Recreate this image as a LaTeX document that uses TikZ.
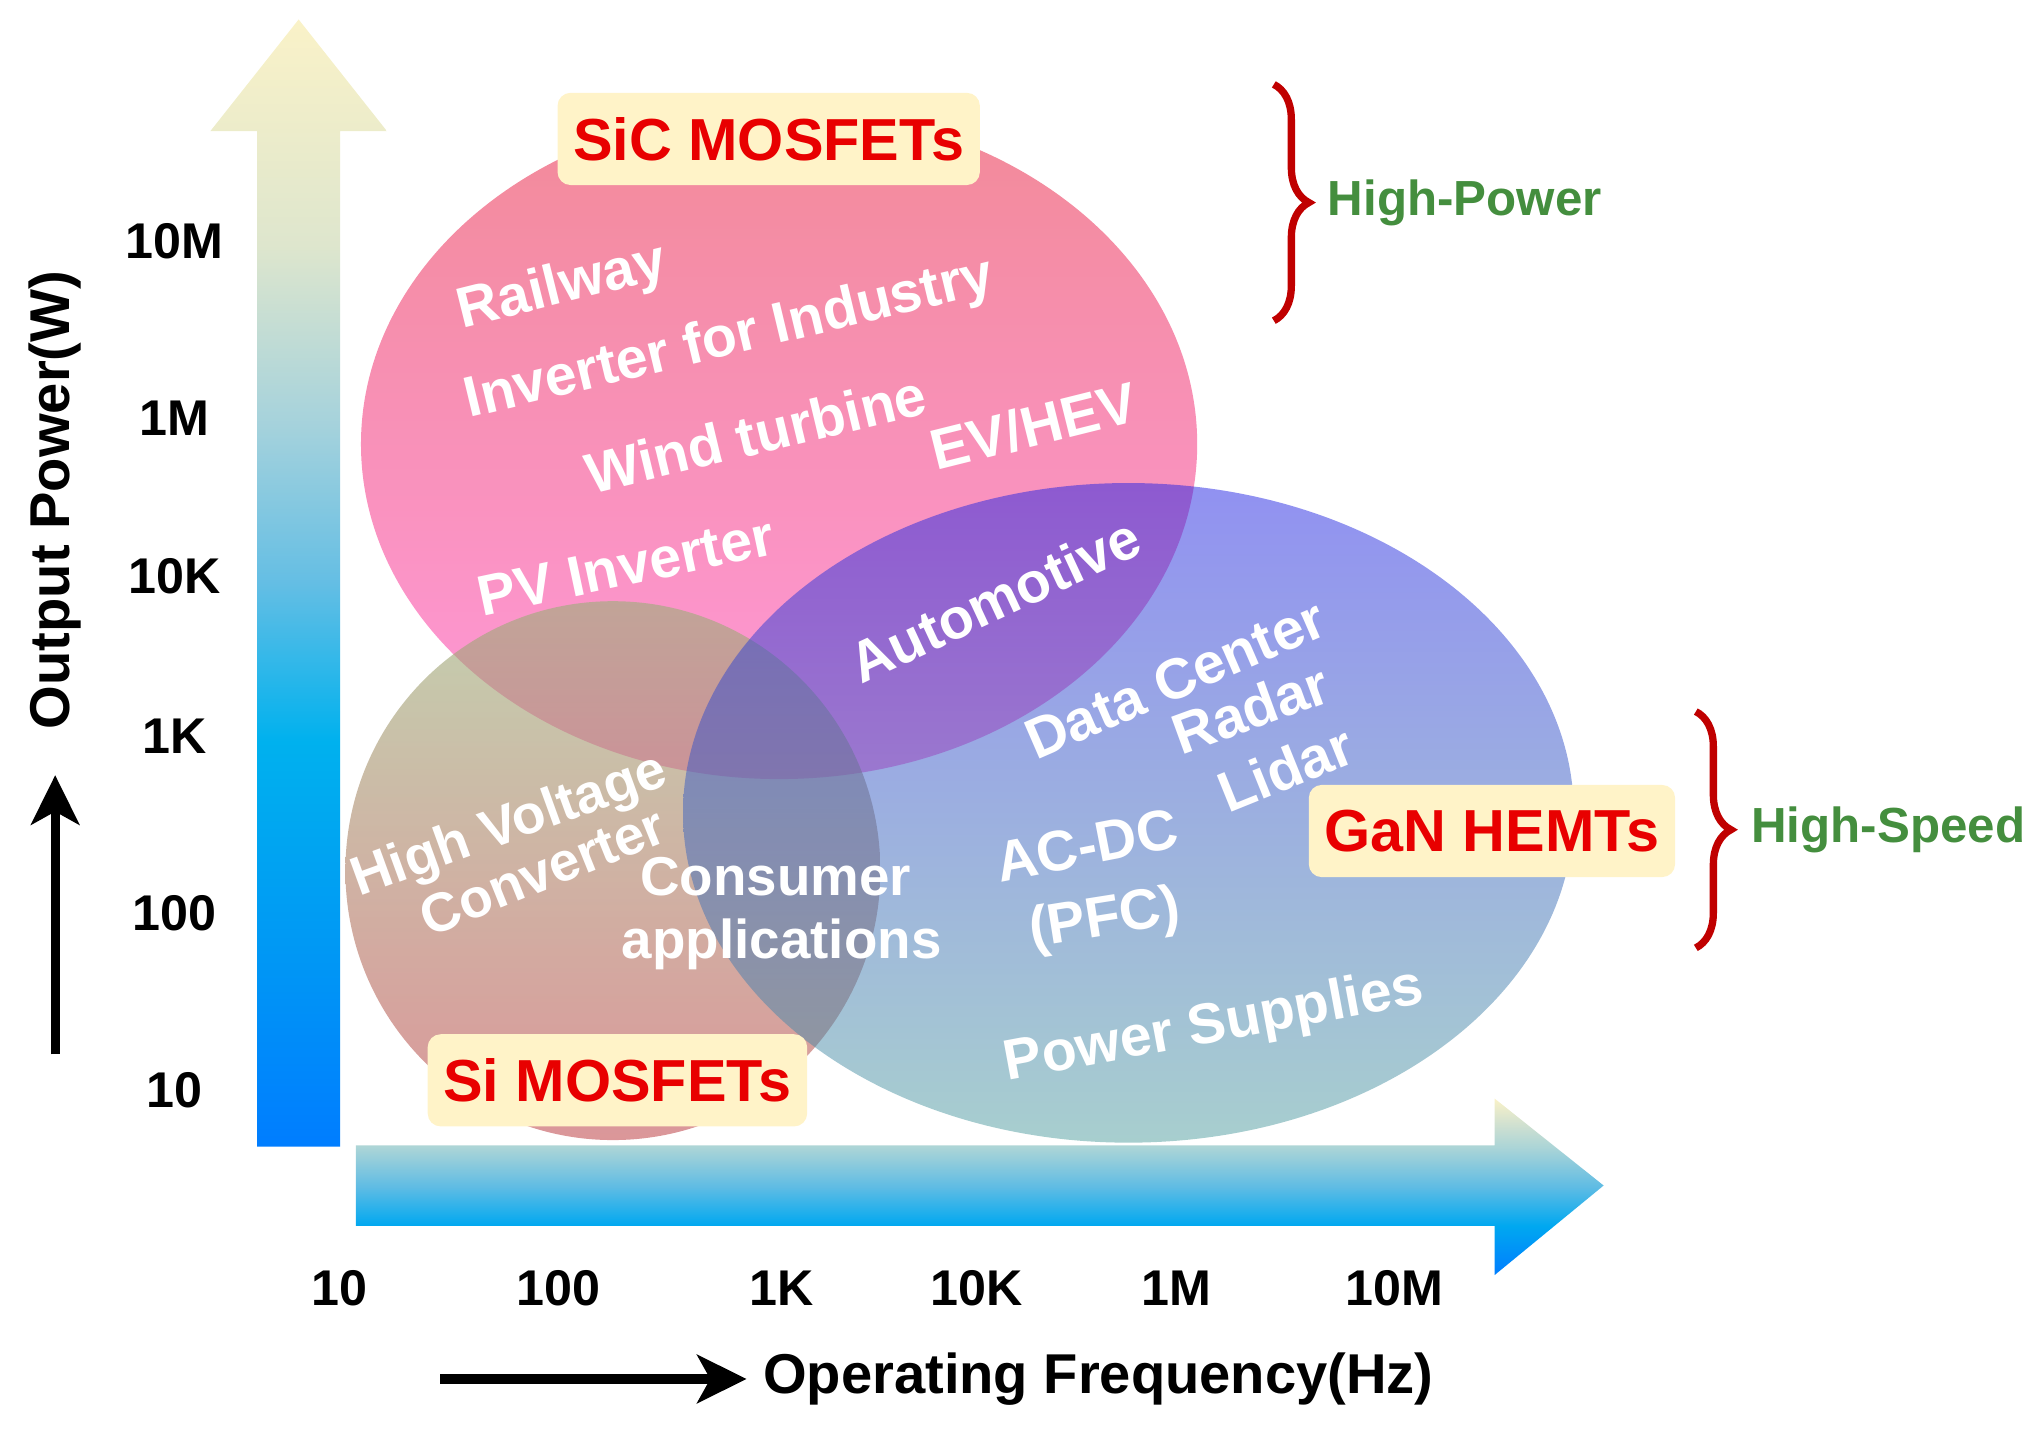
\documentclass[tikz,border=0pt]{standalone}
\usepackage{fontspec}
\setmainfont{Liberation Sans}
\usepackage{tikz}
\usetikzlibrary{positioning}
\usetikzlibrary{calc}
\usetikzlibrary{arrows.meta}
\usetikzlibrary{decorations.pathreplacing}

\definecolor{barblue}{RGB}{0,125,255}
\definecolor{barmid}{RGB}{0,150,245}
\definecolor{barcyan}{RGB}{0,177,238}
\definecolor{barsky}{RGB}{100,190,228}
\definecolor{barpale}{RGB}{165,210,220}
\definecolor{barsage}{RGB}{222,230,205}
\definecolor{barcream}{RGB}{250,242,200}
\definecolor{frqcyan}{RGB}{0,168,240}
\definecolor{frqsky}{RGB}{95,188,228}
\definecolor{frqpale}{RGB}{170,212,215}
\definecolor{frqsage}{RGB}{210,225,208}
\definecolor{sictop}{RGB}{242,138,152}
\definecolor{sicbot}{RGB}{255,152,218}
\definecolor{sitop}{RGB}{155,175,120}
\definecolor{sibot}{RGB}{195,80,85}
\definecolor{gantop}{RGB}{35,35,228}
\definecolor{ganbot}{RGB}{80,158,158}
\definecolor{boxcream}{RGB}{255,243,200}
\definecolor{devred}{RGB}{232,0,0}
\definecolor{bracered}{RGB}{192,0,0}
\definecolor{rangegreen}{RGB}{68,142,62}

\pgfdeclareverticalshading{powerbar}{100bp}{color(0bp)=(barblue); color(25bp)=(barblue); color(33bp)=(barmid); color(43bp)=(barcyan); color(50bp)=(barsky); color(57bp)=(barpale); color(65bp)=(barsage); color(75bp)=(barcream); color(100bp)=(barcream)}
\pgfdeclareverticalshading{freqbar}{100bp}{color(0bp)=(barblue); color(25bp)=(barblue); color(39bp)=(frqcyan); color(50bp)=(frqsky); color(61bp)=(frqpale); color(68bp)=(frqsage); color(75bp)=(barcream); color(100bp)=(barcream)}

\begin{document}
\begin{tikzpicture}[
    ticklbl/.style={font=\fontsize{11}{13}\selectfont\bfseries, inner sep=0pt},
    axtitle/.style={font=\fontsize{12.3}{14}\selectfont\bfseries, inner sep=0pt},
    app/.style={text=white, font=\fontsize{12.5}{15}\selectfont\bfseries, inner sep=0pt},
    smallapp/.style={app, font=\fontsize{12}{14}\selectfont\bfseries},
    device/.style={fill=boxcream, rounded corners=0.1cm, text=devred, font=\fontsize{13}{15}\selectfont\bfseries, inner xsep=0.12cm, inner ysep=0pt, minimum height=0.71cm},
    bracket/.style={draw=bracered, line width=1.6pt, decorate, decoration={brace, amplitude=0.27cm}},
    spanlbl/.style={text=rangegreen, font=\fontsize{10.8}{13}\selectfont\bfseries, inner sep=0pt},
    blackarrow/.style={line width=2pt, -{Stealth[length=0.38cm, width=0.37cm, inset=0.1cm]}}
]
    \useasboundingbox (0,0) rectangle (15.68,11.05);

    \shade[shading=powerbar] (1.98,2.22) -- (2.62,2.22) -- (2.62,10.04) -- (2.98,10.04) -- (2.30,10.90) -- (1.62,10.04) -- (1.98,10.04) -- cycle;
    \shade[shading=freqbar] (2.74,1.61) -- (11.51,1.61) -- (11.51,1.23) -- (12.35,1.92) -- (11.51,2.59) -- (11.51,2.23) -- (2.74,2.23) -- cycle;

    \shade[top color=sictop, bottom color=sicbot] (6.00,7.63) ellipse [x radius=3.22, y radius=2.58];
    \shade[top color=sitop, bottom color=sibot, fill opacity=0.6] (4.72,4.345) ellipse [x radius=2.06, y radius=2.075];
    \shade[top color=gantop, bottom color=ganbot, fill opacity=0.5] (8.69,4.79) ellipse [x radius=3.43, y radius=2.54];

    \node[ticklbl] (p10M) at (1.345,9.195) {10M};
    \node[ticklbl] (p1M) at (1.345,7.83) {1M};
    \node[ticklbl] (p10K) at (1.345,6.61) {10K};
    \node[ticklbl] (p1K) at (1.345,5.38) {1K};
    \node[ticklbl] (p100) at (1.345,4.02) {100};
    \node[ticklbl] (p10) at (1.345,2.655) {10};

    \node[ticklbl] (f10) at (2.615,1.13) {10};
    \node[ticklbl] (f100) at (4.30,1.13) {100};
    \node[ticklbl] (f1K) at (6.02,1.13) {1K};
    \node[ticklbl] (f10K) at (7.52,1.13) {10K};
    \node[ticklbl] (f1M) at (9.06,1.13) {1M};
    \node[ticklbl] (f10M) at (10.74,1.13) {10M};

    \coordinate (pwBot) at (0.425,2.93);
    \coordinate (pwTip) at (0.425,5.08);
    \coordinate (fqBot) at (3.39,0.43);
    \coordinate (fqTip) at (5.75,0.43);
    \draw[blackarrow] (pwBot) -- (pwTip);
    \draw[blackarrow] (fqBot) -- (fqTip);
    \node[axtitle, rotate=90] (pwtitle) at (0.42,7.20) {Output Power(W)};
    \node[axtitle, right=0.12cm of fqTip] (fqtitle) {Operating Frequency(Hz)};

    \node[app, rotate=14] (railway) at (4.33,8.83) {Railway};
    \node[app, rotate=13.5] (industry) at (5.62,8.43) {Inverter for Industry};
    \node[app, rotate=13.5] (wind) at (5.82,7.71) {Wind turbine};
    \node[app, rotate=14] (ev) at (7.96,7.77) {EV/HEV};
    \node[app, rotate=12] (pv) at (4.82,6.69) {PV Inverter};
    \node[app, rotate=25] (auto) at (7.66,6.43) {Automotive};
    \node[app, rotate=23.5] (data) at (9.05,5.82) {Data Center};
    \node[app, rotate=20] (radar) at (9.63,5.59) {Radar};
    \node[app, rotate=22] (lidar) at (9.90,5.13) {Lidar};
    \node[app, rotate=11] (acdc) at (8.37,4.54) {AC-DC};
    \node[app, rotate=9] (pfc) at (8.51,3.96) {(PFC)};
    \node[app, rotate=10.5] (supply) at (9.35,3.14) {Power Supplies};
    \node[smallapp, rotate=20] (hv) at (3.93,4.68) {High Voltage};
    \node[smallapp, rotate=22] (conv) at (4.18,4.34) {Converter};
    \node[smallapp] (consumer) at (5.975,4.295) {Consumer};
    \node[smallapp] (applic) at (6.02,3.78) {applications};

    \node[device] (sic) at (5.92,9.98) {SiC MOSFETs};
    \node[device] (si) at (4.755,2.73) {Si MOSFETs};
    \node[device] (gan) at (11.49,4.65) {GaN HEMTs};

    \coordinate (hpTop) at (9.81,10.40);
    \coordinate (hpBot) at (9.81,8.58);
    \coordinate (hpMid) at ($(hpTop)!0.5!(hpBot)$);
    \draw[bracket] (hpTop) -- (hpBot);
    \node[spanlbl, right=0.41cm of hpMid] (hp) {High-Power};

    \coordinate (hsTop) at (13.06,5.57);
    \coordinate (hsBot) at (13.06,3.75);
    \coordinate (hsMid) at ($(hsTop)!0.5!(hsBot)$);
    \draw[bracket] (hsTop) -- (hsBot);
    \node[spanlbl, right=0.42cm of hsMid] (hs) {High-Speed};

\end{tikzpicture}
\end{document}
